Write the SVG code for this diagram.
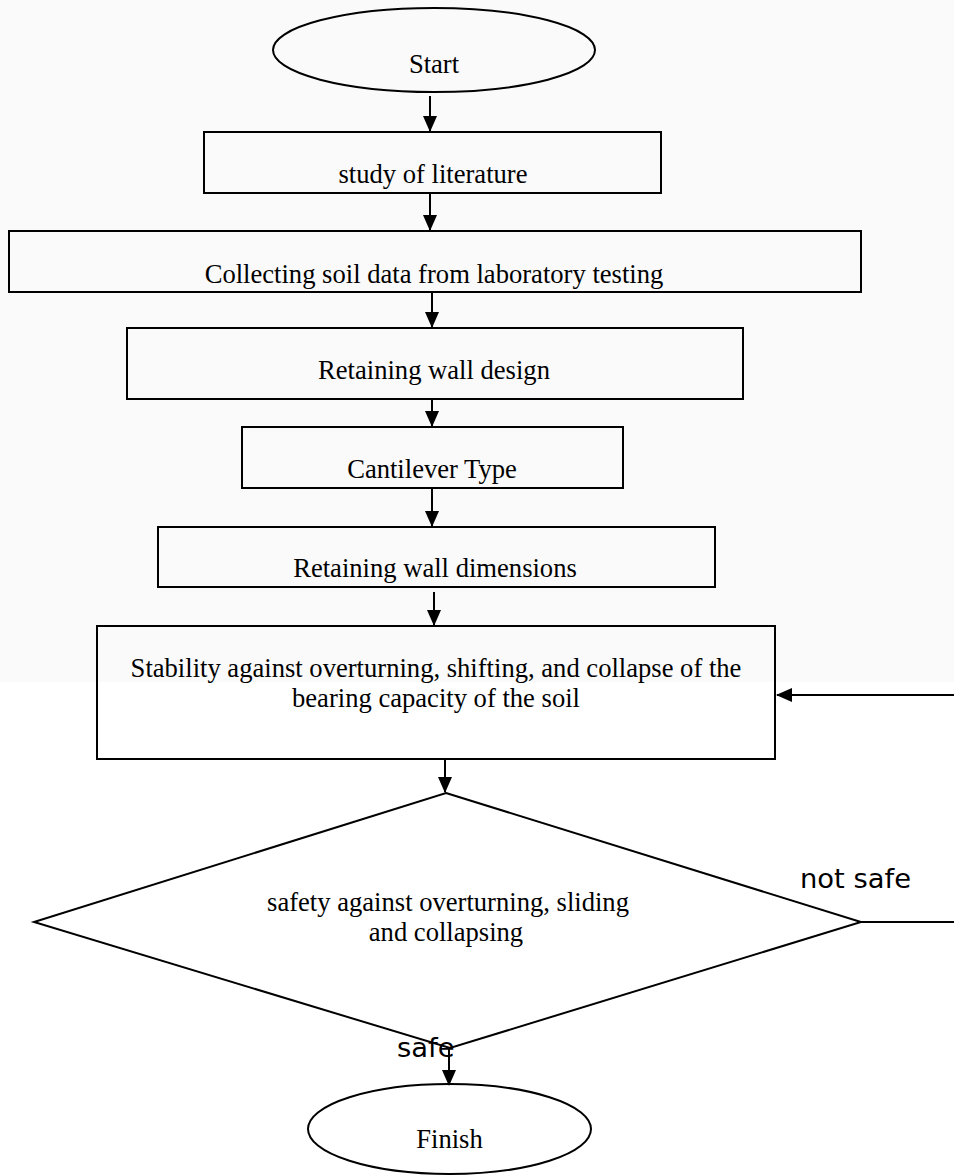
<svg xmlns="http://www.w3.org/2000/svg" width="954" height="1176" viewBox="0 0 954 1176">
<style>
  .shape { fill: none; stroke: #000; stroke-width: 2; }
  .conn { fill: none; stroke: #000; stroke-width: 2; }
  .t { font-family: "Liberation Serif", "Times New Roman", serif; font-size: 26.6px; fill: #000; text-anchor: middle; }
  .lbl { font-family: "DejaVu Sans", Verdana, sans-serif; font-size: 27.4px; fill: #000; }
</style>
<defs>
  <marker id="arr" markerUnits="userSpaceOnUse" markerWidth="16" markerHeight="14" refX="15" refY="7" orient="auto">
    <path d="M0,0 L16,7 L0,14 Z" fill="#000"/>
  </marker>
</defs>
<rect x="0" y="0" width="954" height="682" fill="#fafafa"/>
<rect x="0" y="682" width="954" height="494" fill="#ffffff"/>

<g id="connectors">
  <line class="conn" x1="430" y1="96" x2="430" y2="131" marker-end="url(#arr)"/>
  <line class="conn" x1="430" y1="193" x2="430" y2="230" marker-end="url(#arr)"/>
  <line class="conn" x1="432" y1="292" x2="432" y2="327" marker-end="url(#arr)"/>
  <line class="conn" x1="432" y1="399" x2="432" y2="426" marker-end="url(#arr)"/>
  <line class="conn" x1="432" y1="488" x2="432" y2="526" marker-end="url(#arr)"/>
  <line class="conn" x1="434" y1="592" x2="434" y2="625" marker-end="url(#arr)"/>
  <line class="conn" x1="445" y1="760" x2="445" y2="792" marker-end="url(#arr)"/>
  <line class="conn" x1="449" y1="1049" x2="449" y2="1085" marker-end="url(#arr)"/>
  <line class="conn" x1="954" y1="695" x2="777" y2="695" marker-end="url(#arr)"/>
  <line class="conn" x1="861" y1="922" x2="954" y2="922"/>
  <text class="lbl" x="800" y="888">not safe</text>
  <text class="lbl" x="397" y="1057">safe</text>
</g>

<g id="start">
  <ellipse class="shape" cx="434" cy="50" rx="161" ry="42"/>
  <text class="t" x="434" y="73">Start</text>
</g>
<g id="study">
  <rect class="shape" x="204" y="132" width="457" height="61"/>
  <text class="t" x="433" y="183">study of literature</text>
</g>
<g id="collect">
  <rect class="shape" x="9" y="231" width="852" height="61"/>
  <text class="t" x="434" y="283">Collecting soil data from laboratory testing</text>
</g>
<g id="design">
  <rect class="shape" x="127" y="328" width="616" height="71"/>
  <text class="t" x="434" y="379">Retaining wall design</text>
</g>
<g id="cantilever">
  <rect class="shape" x="242" y="427" width="381" height="61"/>
  <text class="t" x="432" y="478">Cantilever Type</text>
</g>
<g id="dimensions">
  <rect class="shape" x="158" y="527" width="557" height="60"/>
  <text class="t" x="435" y="577">Retaining wall dimensions</text>
</g>
<g id="stability">
  <rect class="shape" x="97" y="626" width="678" height="133"/>
  <text class="t" x="436" y="677">Stability against overturning, shifting, and collapse of the</text>
  <text class="t" x="436" y="707">bearing capacity of the soil</text>
</g>
<g id="decision">
  <polygon class="shape" points="446,793 861,922 450,1048 34,922"/>
  <text class="t" x="448" y="911">safety against overturning, sliding</text>
  <text class="t" x="446" y="941">and collapsing</text>
</g>
<g id="finish">
  <ellipse class="shape" cx="449.5" cy="1129" rx="141.5" ry="45"/>
  <text class="t" x="449.5" y="1148">Finish</text>
</g>
</svg>
